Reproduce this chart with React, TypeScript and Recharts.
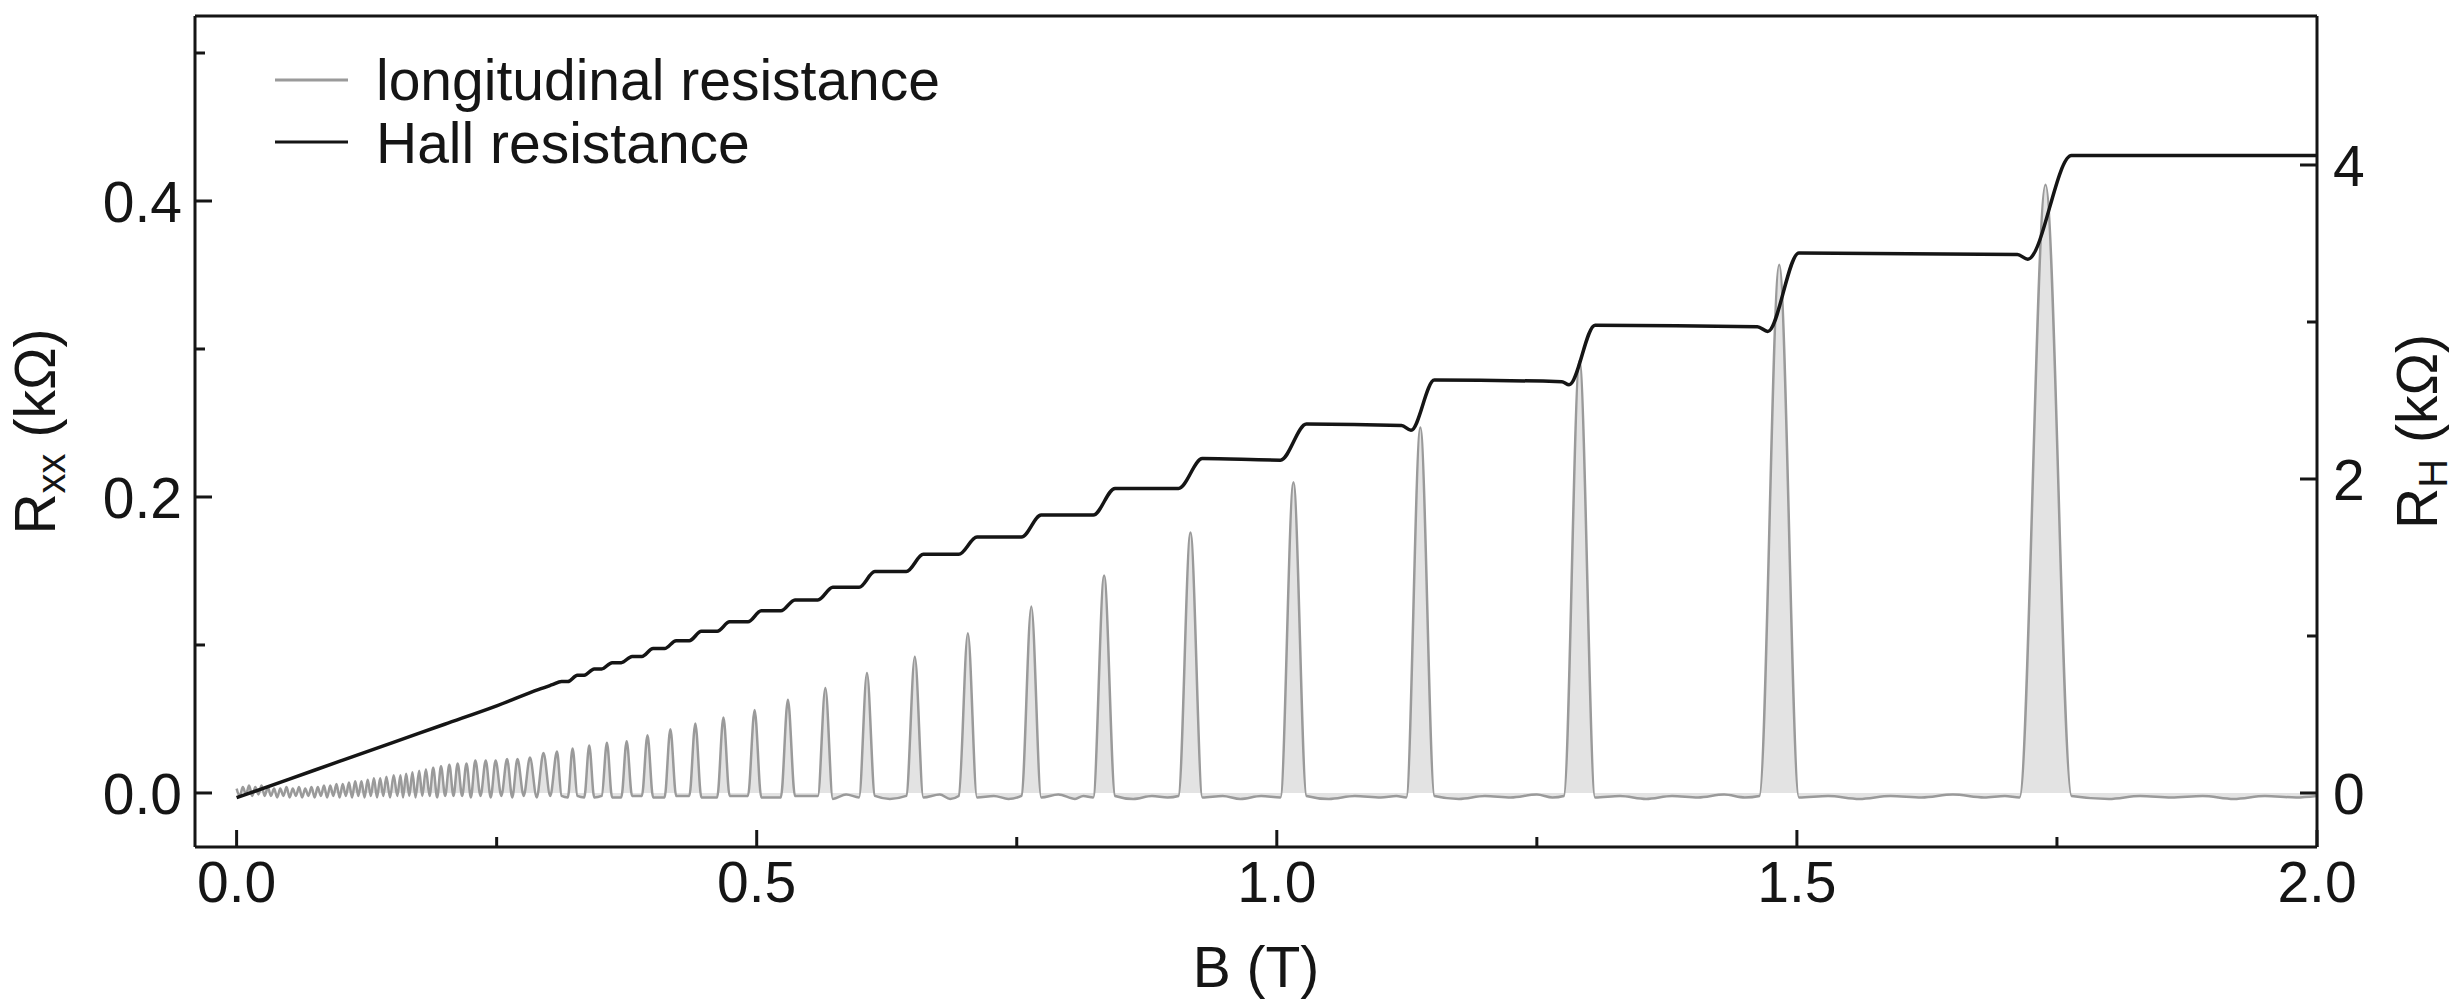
import React from "react";
import { Area, ComposedChart, Legend, Line, XAxis, YAxis } from "recharts";

// longitudinal resistance Rxx (kΩ) against B (T)
const rxxPoints: [number, number][] = [
  [0.0, 0.003], [0.003, -0.002], [0.006, 0.004], [0.009, -0.001], [0.012, 0.005], [0.015, -0.002],
  [0.018, 0.004], [0.021, -0.001], [0.024, 0.005], [0.027, -0.002], [0.03, 0.004], [0.033, -0.002],
  [0.036, 0.003], [0.039, -0.003], [0.042, 0.003], [0.045, -0.002], [0.048, 0.004], [0.051, -0.003],
  [0.054, 0.003], [0.057, -0.002], [0.06, 0.004], [0.063, -0.003], [0.066, 0.003], [0.069, -0.002],
  [0.072, 0.004], [0.075, -0.003], [0.078, 0.004], [0.081, -0.002], [0.084, 0.005], [0.087, -0.003],
  [0.09, 0.005], [0.093, -0.002], [0.096, 0.006], [0.099, -0.003], [0.102, 0.006], [0.105, -0.002],
  [0.108, 0.007], [0.111, -0.003], [0.114, 0.008], [0.117, -0.002], [0.12, 0.008], [0.123, -0.003],
  [0.126, 0.009], [0.129, -0.002], [0.132, 0.01], [0.135, -0.003], [0.138, 0.01], [0.141, -0.002],
  [0.144, 0.011], [0.1475, -0.003], [0.151, 0.012], [0.1545, -0.002], [0.1575, 0.012], [0.16, -0.003],
  [0.163, 0.013], [0.166, -0.002], [0.169, 0.014], [0.172, -0.003], [0.1755, 0.015], [0.1785, -0.002],
  [0.182, 0.016], [0.1855, -0.002], [0.189, 0.017], [0.1928, -0.003], [0.1965, 0.018], [0.2005, -0.002],
  [0.2045, 0.019], [0.2085, -0.002], [0.2125, 0.02], [0.2168, -0.002], [0.221, 0.02], [0.2252, -0.003],
  [0.2295, 0.022], [0.2345, -0.002], [0.2395, 0.022], [0.2443, -0.003], [0.249, 0.022], [0.2545, -0.002],
  [0.26, 0.023], [0.265, -0.003], [0.27, 0.023], [0.276, -0.002], [0.282, 0.024], [0.2885, -0.003],
  [0.295, 0.027], [0.3015, -0.002], [0.308, 0.028], [0.3124, -0.002],
  [0.3184, -0.003], [0.323, 0.03], [0.3276, -0.002],
  [0.3342, -0.003], [0.339, 0.032], [0.3438, -0.003],
  [0.351, -0.002], [0.356, 0.034], [0.361, -0.003],
  [0.3698, -0.003], [0.375, 0.035], [0.3802, -0.002],
  [0.3896, -0.002], [0.395, 0.039], [0.4004, -0.003],
  [0.4114, -0.003], [0.417, 0.043], [0.4226, -0.002],
  [0.4352, -0.002], [0.441, 0.047], [0.4468, -0.003],
  [0.462, -0.003], [0.468, 0.051], [0.474, -0.002],
  [0.4916, -0.002], [0.498, 0.056], [0.5044, -0.003],
  [0.5232, -0.003], [0.53, 0.063], [0.5368, -0.002],
  [0.5588, -0.002], [0.566, 0.071], [0.5732, -0.004], [0.586, -0.001],
  [0.5984, -0.003], [0.606, 0.081], [0.6136, -0.002], [0.628, -0.004],
  [0.6438, -0.002], [0.652, 0.092], [0.6602, -0.003], [0.676, -0.001], [0.686, -0.004],
  [0.6942, -0.002], [0.703, 0.108], [0.7118, -0.003], [0.728, -0.002], [0.742, -0.004],
  [0.7545, -0.002], [0.764, 0.126], [0.7735, -0.003], [0.79, -0.001], [0.806, -0.004], [0.814, -0.002],
  [0.8235, -0.003], [0.834, 0.147], [0.8445, -0.002], [0.862, -0.004], [0.88, -0.002], [0.895, -0.003],
  [0.9055, -0.002], [0.917, 0.176], [0.9285, -0.003], [0.948, -0.002], [0.965, -0.004], [0.985, -0.002],
  [1.0035, -0.003], [1.016, 0.21], [1.0285, -0.002], [1.05, -0.004], [1.075, -0.002], [1.1, -0.003], [1.115, -0.002],
  [1.1245, -0.003], [1.138, 0.247], [1.1515, -0.002], [1.175, -0.004], [1.2, -0.002], [1.225, -0.003], [1.25, -0.001], [1.265, -0.003],
  [1.276, -0.002], [1.291, 0.292], [1.306, -0.003], [1.33, -0.002], [1.355, -0.004], [1.38, -0.002], [1.405, -0.003], [1.43, -0.001], [1.45, -0.003],
  [1.464, -0.002], [1.483, 0.357], [1.502, -0.003], [1.53, -0.002], [1.56, -0.004], [1.59, -0.002], [1.62, -0.003], [1.65, -0.001], [1.68, -0.003], [1.7, -0.002],
  [1.714, -0.003], [1.739, 0.411], [1.764, -0.002], [1.8, -0.004], [1.83, -0.002], [1.86, -0.003], [1.89, -0.002], [1.92, -0.004], [1.95, -0.002], [1.98, -0.003], [2.0, -0.002],
];

// Hall resistance R_H (kΩ) against B (T)
const hallPoints: [number, number][] = [
  [0.0, -0.03], [0.05, 0.087], [0.1, 0.204], [0.15, 0.321], [0.2, 0.438], [0.25, 0.555], [0.2906, 0.66],
  [0.3036, 0.69], [0.3124, 0.71], [0.3184, 0.71], [0.3276, 0.75], [0.3342, 0.75], [0.3438, 0.79], [0.351, 0.79],
  [0.361, 0.83], [0.3698, 0.83], [0.3802, 0.87], [0.3896, 0.87], [0.4004, 0.92], [0.4114, 0.92],
  [0.4226, 0.97], [0.4352, 0.97], [0.4468, 1.03], [0.462, 1.03], [0.474, 1.09], [0.4916, 1.09],
  [0.5044, 1.16], [0.5232, 1.16], [0.5368, 1.23], [0.5588, 1.23], [0.5732, 1.31], [0.5984, 1.31],
  [0.6136, 1.41], [0.6438, 1.41], [0.6602, 1.52], [0.6942, 1.52], [0.7118, 1.63], [0.7545, 1.63],
  [0.7735, 1.77], [0.8235, 1.77], [0.8445, 1.94], [0.9055, 1.94], [0.9285, 2.13], [1.0035, 2.12],
  [1.0285, 2.35], [1.12, 2.34], [1.129, 2.31], [1.1515, 2.63], [1.274, 2.62], [1.281, 2.6],
  [1.306, 2.98], [1.462, 2.97], [1.472, 2.94], [1.502, 3.44], [1.712, 3.43], [1.722, 3.4],
  [1.764, 4.06], [2.0, 4.06],
];

const bTicks = [0, 0.25, 0.5, 0.75, 1, 1.25, 1.5, 1.75, 2];
const bMajor = [0, 0.5, 1, 1.5, 2];
const rxxTicks = [0, 0.1, 0.2, 0.3, 0.4, 0.5];
const rxxMajor = [0, 0.2, 0.4];
const rhTicks = [0, 1, 2, 3, 4];
const rhMajor = [0, 2, 4];
const seriesNames = ["longitudinal resistance", "Hall resistance"];

const rxxData = rxxPoints.map(([b, rxx]) => ({ b, rxx }));
const hallData = hallPoints.map(([b, rh]) => ({ b, rh }));

const FONT = "'Liberation Sans', Arial, sans-serif";
const INK = "#151515";
const GREY = "#9a9a9a";
const MAJOR = 17;
const MINOR = 10;

const isMajor = (v: number, list: number[]) => list.some((m) => Math.abs(m - v) < 1e-6);

function BottomTick(props: any) {
  const { x, y, payload } = props;
  const major = isMajor(payload.value, bMajor);
  return (
    <g>
      <line x1={x} x2={x} y1={y} y2={y - (major ? MAJOR : MINOR)} stroke={INK} strokeWidth={3} />
      {major && (
        <text x={x} y={y + 55} textAnchor="middle" fontFamily={FONT} fontSize={57} fill={INK}>
          {payload.value.toFixed(1)}
        </text>
      )}
    </g>
  );
}

function TopTick(props: any) {
  const { x, y, payload } = props;
  const major = isMajor(payload.value, bMajor);
  return <line x1={x} x2={x} y1={y} y2={y + (major ? MAJOR : MINOR)} stroke={INK} strokeWidth={3} />;
}

function LeftTick(props: any) {
  const { x, y, payload } = props;
  const major = isMajor(payload.value, rxxMajor);
  return (
    <g>
      <line x1={x} x2={x + (major ? MAJOR : MINOR)} y1={y} y2={y} stroke={INK} strokeWidth={3} />
      {major && (
        <text x={x - 13} y={y} dy="0.36em" textAnchor="end" fontFamily={FONT} fontSize={57} fill={INK}>
          {payload.value.toFixed(1)}
        </text>
      )}
    </g>
  );
}

function RightTick(props: any) {
  const { x, y, payload } = props;
  const major = isMajor(payload.value, rhMajor);
  return (
    <g>
      <line x1={x} x2={x - (major ? MAJOR : MINOR)} y1={y} y2={y} stroke={INK} strokeWidth={3} />
      {major && (
        <text x={x + 16} y={y} dy="0.36em" textAnchor="start" fontFamily={FONT} fontSize={57} fill={INK}>
          {payload.value}
        </text>
      )}
    </g>
  );
}

function AxisTitle({ cx, cy, main, sub, rest, rotate }: any) {
  return (
    <text
      x={cx}
      y={cy}
      textAnchor="middle"
      dy="0.36em"
      transform={rotate ? `rotate(-90, ${cx}, ${cy})` : undefined}
      fontFamily={FONT}
      fontSize={57}
      fill={INK}
    >
      {main}
      {sub && (
        <tspan dy={10} fontSize={40}>
          {sub}
        </tspan>
      )}
      <tspan dy={sub ? -10 : 0}>{rest}</tspan>
    </text>
  );
}

function LegendBox() {
  const colors = [GREY, INK];
  return (
    <svg width={800} height={160}>
      {seriesNames.map((name, i) => (
        <g key={name}>
          <line x1={15} x2={88} y1={50 + i * 62} y2={50 + i * 62} stroke={colors[i]} strokeWidth={3} />
          <text x={116} y={70 + i * 63} fontFamily={FONT} fontSize={57} fill={INK}>
            {name}
          </text>
        </g>
      ))}
    </svg>
  );
}

export default function App() {
  return (
    <div style={{ position: "absolute", left: 0, top: 0, width: 2460, height: 1004, background: "#fff" }}>
      <ComposedChart width={2460} height={1004} margin={{ top: 15, right: 43, bottom: 57, left: 75 }}>
        <XAxis
          xAxisId="top"
          orientation="top"
          type="number"
          domain={[-0.04, 2]}
          allowDataOverflow
          ticks={bTicks}
          interval={0}
          height={1}
          tickSize={0}
          tickMargin={0}
          tickLine={false}
          axisLine={{ stroke: INK, strokeWidth: 3 }}
          tick={(p: any) => <TopTick {...p} />}
        />
        <XAxis
          xAxisId="b"
          dataKey="b"
          type="number"
          domain={[-0.04, 2]}
          allowDataOverflow
          ticks={bTicks}
          interval={0}
          height={100}
          tickSize={0}
          tickMargin={0}
          tickLine={false}
          axisLine={{ stroke: INK, strokeWidth: 3 }}
          tick={(p: any) => <BottomTick {...p} />}
          label={(p: any) => {
            const vb = p.viewBox;
            return <AxisTitle cx={vb.x + vb.width / 2} cy={vb.y + 119} main="B (T)" rest="" />;
          }}
        />
        <YAxis
          yAxisId="left"
          type="number"
          domain={[-0.0365, 0.525]}
          allowDataOverflow
          ticks={rxxTicks}
          interval={0}
          width={120}
          tickSize={0}
          tickMargin={0}
          tickLine={false}
          axisLine={{ stroke: INK, strokeWidth: 3 }}
          tick={(p: any) => <LeftTick {...p} />}
          label={(p: any) => {
            const vb = p.viewBox;
            return <AxisTitle cx={vb.x + vb.width - 161} cy={vb.y + vb.height / 2} main="R" sub="xx" rest=" (kΩ)" rotate />;
          }}
        />
        <YAxis
          yAxisId="right"
          orientation="right"
          type="number"
          domain={[-0.344, 4.949]}
          allowDataOverflow
          ticks={rhTicks}
          interval={0}
          width={100}
          tickSize={0}
          tickMargin={0}
          tickLine={false}
          axisLine={{ stroke: INK, strokeWidth: 3 }}
          tick={(p: any) => <RightTick {...p} />}
          label={(p: any) => {
            const vb = p.viewBox;
            return <AxisTitle cx={vb.x + 99} cy={vb.y + vb.height / 2} main="R" sub="H" rest=" (kΩ)" rotate />;
          }}
        />
        <Legend
          layout="vertical"
          align="center"
          verticalAlign="middle"
          wrapperStyle={{ left: 260, top: 30, width: 800, height: 160 }}
          content={() => <LegendBox />}
        />
        <Area
          name={seriesNames[0]}
          data={rxxData}
          dataKey="rxx"
          xAxisId="b"
          yAxisId="left"
          type="monotone"
          stroke={GREY}
          strokeWidth={2.5}
          fill="#e3e3e3"
          fillOpacity={1}
          dot={false}
          activeDot={false}
          isAnimationActive={false}
        />
        <Line
          name={seriesNames[1]}
          data={hallData}
          dataKey="rh"
          xAxisId="b"
          yAxisId="right"
          type="monotone"
          stroke={INK}
          strokeWidth={3.5}
          dot={false}
          activeDot={false}
          isAnimationActive={false}
        />
      </ComposedChart>
    </div>
  );
}
